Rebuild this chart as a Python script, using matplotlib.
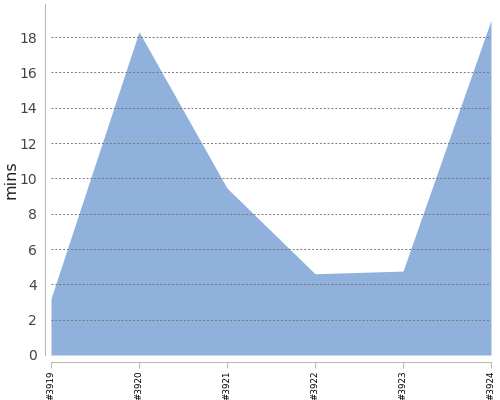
import matplotlib
matplotlib.use("Agg")
import matplotlib.pyplot as plt

builds = ["#3919", "#3920", "#3921", "#3922", "#3923", "#3924"]
mins = [3.2, 18.3, 9.45, 4.6, 4.75, 18.95]
yticks = [0, 2, 4, 6, 8, 10, 12, 14, 16, 18]

fig = plt.figure(figsize=(5, 4), dpi=100)
ax = fig.add_axes([0.102, 0.1125, 0.88, 0.8775])

x = list(range(len(builds)))
ax.fill_between(x, mins, 0, color="#8fb1db", linewidth=0, zorder=1)

ax.set_xlim(0, len(builds) - 1)
ax.set_ylim(0, 19.87)
ax.set_yticks(yticks)
ax.set_xticks(x)
ax.set_xticklabels(builds)
ax.tick_params(axis="y", length=0, labelsize=10, labelcolor="#444444", pad=6)
ax.tick_params(axis="x", length=4, color="#bbbbbb", pad=2, labelsize=6.3,
               labelcolor="#000000", labelrotation=90)

for v in yticks[1:]:
    ax.axhline(v, color="#777777", linestyle=(0, (2, 2)), linewidth=0.7, zorder=2)

for s in ["top", "right"]:
    ax.spines[s].set_visible(False)
ax.spines["left"].set_position(("outward", 4))
ax.spines["bottom"].set_position(("outward", 5))
ax.spines["left"].set_color("#bbbbbb")
ax.spines["bottom"].set_color("#bbbbbb")

ax.set_ylabel("mins", fontsize=11.5, color="#222222")
ax.yaxis.set_label_coords(-0.073, 0.5)

fig.savefig("out.png", dpi=100)
